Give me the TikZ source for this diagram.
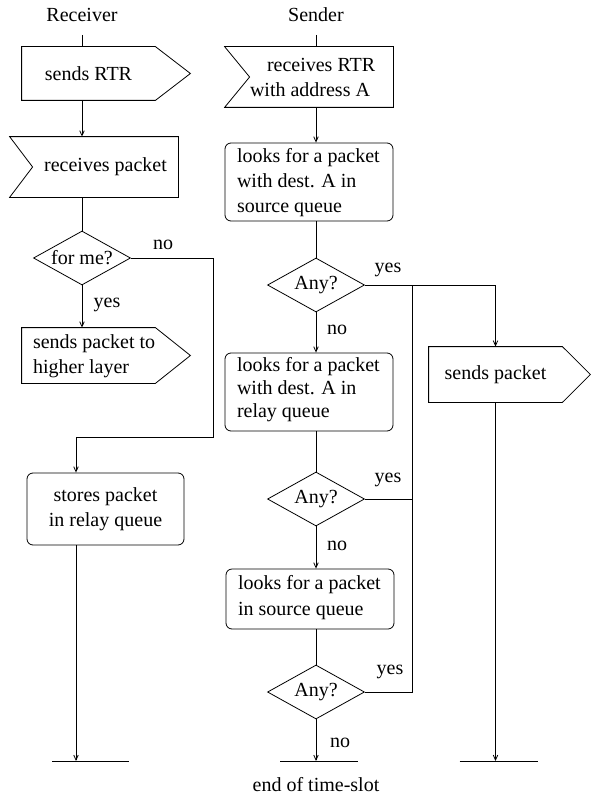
\documentclass[tikz,border=0pt]{standalone}
\usepackage{fontspec}
\setmainfont{Liberation Serif}
\usetikzlibrary{arrows.meta,shapes.geometric}
\begin{document}
\begin{tikzpicture}[x=1pt,y=-1pt,line width=0.8pt,
  every node/.style={font=\fontsize{20}{25}\selectfont},
  arr/.style={-{Straight Barb[length=5pt,width=4.5pt]}},
  shapebox/.style={rectangle,draw=none,inner sep=0pt},
  procbox/.style={rectangle,draw,rounded corners=6pt,inner sep=0pt},
  txt/.style={inner sep=0pt,align=left,anchor=west},
  dec/.style={diamond,draw,inner sep=0pt,minimum width=97pt,minimum height=54pt}]
\useasboundingbox (0,0) rectangle (590,797);
% headers
\node (recv) at (82,15) {Receiver};
\node (send) at (316,15) {Sender};
\coordinate (rtop) at (82,35);
\coordinate (stop) at (316,35);
% ---------------- Receiver column
\node[shapebox,minimum width=133pt,minimum height=53pt] (srtr) at (88.5,73.5) {sends RTR};
\draw (srtr.north west) -- (srtr.north east) -- ([xshift=35pt]srtr.east) -- (srtr.south east) -- (srtr.south west) -- cycle;
\node[shapebox,minimum width=145pt,minimum height=60pt] (rp) at (105.5,167) {receives packet};
\draw (rp.north east) -- ([xshift=-23pt]rp.north west) -- (rp.west) -- ([xshift=-23pt]rp.south west) -- (rp.south east) -- cycle;
\node[dec] (fm) at (82,258) {\makebox[0pt]{for me?}};
\node[shapebox,minimum width=133pt,minimum height=55pt] (hl) at (88.5,355.5) {};
\draw (hl.north west) -- (hl.north east) -- ([xshift=35pt]hl.east) -- (hl.south east) -- (hl.south west) -- cycle;
\node[txt] (hlt) at ([xshift=11pt,yshift=-1pt]hl.west) {sends packet to\\higher layer};
\node[procbox,minimum width=157pt,minimum height=72pt,align=center] (st) at (105.5,509) {stores packet\\in relay queue};
\node (yesa) at (107,305) {yes};
\node (noa) at (163,245) {no};
\coordinate (c1) at (213,437);
\coordinate (e1) at (76,761);
\draw (rtop) -- (srtr.north -| rtop);
\draw[arr] (srtr.south -| fm) -- (rp.north -| fm);
\draw (rp.south -| fm) -- (fm.north);
\draw[arr] (fm.south) -- (hl.north -| fm);
\draw[arr] (fm.east) -| (c1) -| (st.north -| e1);
\draw[arr] (st.south -| e1) -- (e1);
\draw ([xshift=-24pt]e1) -- ([xshift=53pt]e1);
% ---------------- Sender column
\node[shapebox,minimum width=143pt,minimum height=60pt] (rrtr) at (321.5,77) {};
\draw (rrtr.north east) -- ([xshift=-25pt]rrtr.north west) -- (rrtr.west) -- ([xshift=-25pt]rrtr.south west) -- (rrtr.south east) -- cycle;
\node[txt] (rrtrt) at (rrtr.west) {\hspace*{17pt}receives RTR\\with address A};
\node[procbox,minimum width=168pt,minimum height=78pt] (lk1) at (309,182) {};
\node[txt] (lk1t) at ([xshift=12pt,yshift=-1pt]lk1.west) {looks for a packet\\with dest. A in\\source queue};
\node[dec] (d1) at (316,285) {\makebox[0pt]{Any?}};
\node[procbox,minimum width=168pt,minimum height=78pt] (lk2) at (309,392) {};
\node[txt,font=\fontsize{20}{23}\selectfont] (lk2t) at ([xshift=12pt,yshift=2pt]lk2.west) {looks for a packet\\with dest. A in\\relay queue};
\node[dec] (d2) at (316,499) {\makebox[0pt]{Any?}};
\node[procbox,minimum width=168pt,minimum height=60pt] (lk3) at (310,599) {};
\node[txt,font=\fontsize{20}{26}\selectfont] (lk3t) at ([xshift=12pt,yshift=1pt]lk3.west) {looks for a packet\\in source queue};
\node[dec] (d3) at (316,692) {\makebox[0pt]{Any?}};
\node (yes1) at (388,270) {yes};
\node (no1) at (337,330) {no};
\node (yes2) at (388,480) {yes};
\node (no2) at (337,546) {no};
\node (yes3) at (390,672) {yes};
\node (no3) at (340,743) {no};
\node[shapebox,minimum width=133pt,minimum height=55pt] (sp) at (495.5,374.5) {sends packet};
\draw (sp.north west) -- (sp.north east) -- ([xshift=28pt]sp.east) -- (sp.south east) -- (sp.south west) -- cycle;
\coordinate (jx) at (412,0);
\coordinate (e2) at (316,761);
\coordinate (e3) at (495.5,761);
\draw (stop) -- (rrtr.north -| stop);
\draw[arr] (rrtr.south -| stop) -- (lk1.north -| stop);
\draw (lk1.south -| stop) -- (d1.north);
\draw[arr] (d1.south) -- (lk2.north -| stop);
\draw (lk2.south -| stop) -- (d2.north);
\draw[arr] (d2.south) -- (lk3.north -| stop);
\draw (lk3.south -| stop) -- (d3.north);
\draw[arr] (d3.south) -- (e2);
\draw[arr] (d1.east) -| (sp.north);
\draw (d2.east) -- (d2.east -| jx);
\draw (d3.east) -| (d1.east -| jx);
\draw[arr] (sp.south) -- (e3);
\draw ([xshift=-36pt]e2) -- ([xshift=42pt]e2);
\draw ([xshift=-36pt]e3) -- ([xshift=42pt]e3);
\node (eots) at (316,785) {end of time-slot};
\end{tikzpicture}
\end{document}
